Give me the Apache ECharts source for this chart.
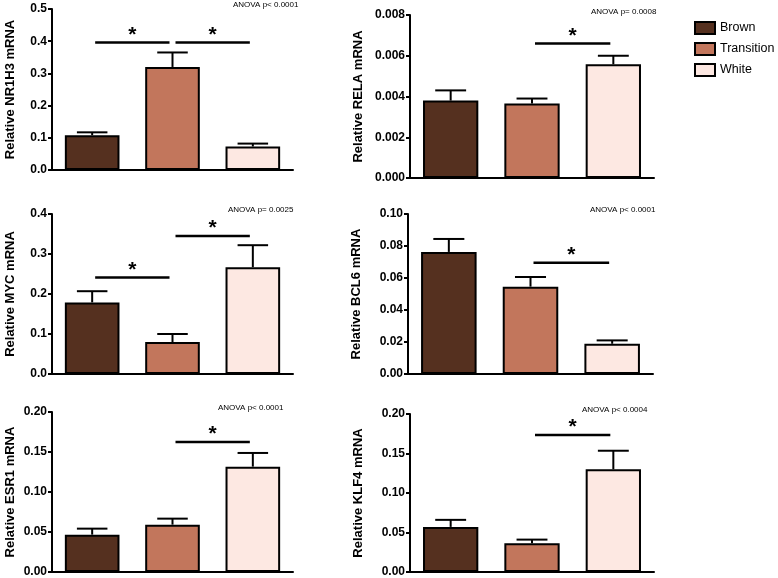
<!DOCTYPE html>
<html><head><meta charset="utf-8">
<script src="https://cdn.jsdelivr.net/npm/echarts@6/dist/echarts.min.js"></script>
<style>html,body{margin:0;padding:0;background:#fff}#c{width:778px;height:578px}</style>
</head><body><div id="c"></div>
<script>
const groups = ['Brown', 'Transition', 'White'];
const genes = ['NR1H3', 'RELA', 'MYC', 'BCL6', 'ESR1', 'KLF4'];
const anovaText = ['ANOVA p< 0.0001', 'ANOVA p= 0.0008', 'ANOVA p= 0.0025', 'ANOVA p< 0.0001', 'ANOVA p< 0.0001', 'ANOVA p< 0.0004'];
// mean values (Brown, Transition, White)
const meanNR1H3 = [0.108, 0.320, 0.073];
const meanRELA  = [0.0038, 0.00366, 0.00558];
const meanMYC   = [0.179, 0.080, 0.267];
const meanBCL6  = [0.0763, 0.0546, 0.0189];
const meanESR1  = [0.0467, 0.0592, 0.1317];
const meanKLF4  = [0.0571, 0.0364, 0.130];
// upper error (mean + SEM)
const upNR1H3 = [0.117, 0.365, 0.082];
const upRELA  = [0.0043, 0.0039, 0.0060];
const upMYC   = [0.207, 0.100, 0.322];
const upBCL6  = [0.0844, 0.0607, 0.0210];
const upESR1  = [0.0542, 0.0667, 0.1488];
const upKLF4  = [0.066, 0.041, 0.1535];
// significance brackets: [fromGroup, toGroup, yValue]
const sigNR1H3 = [[0, 1, 0.396], [1, 2, 0.396]];
const sigRELA  = [[1, 2, 0.0066]];
const sigMYC   = [[0, 1, 0.241], [1, 2, 0.345]];
const sigBCL6  = [[1, 2, 0.0696]];
const sigESR1  = [[1, 2, 0.1625]];
const sigKLF4  = [[1, 2, 0.1734]];
// y-axis scales
const yMax = [0.5, 0.008, 0.4, 0.10, 0.20, 0.20];
const yInterval = [0.1, 0.002, 0.1, 0.02, 0.05, 0.05];
const yDecimals = [1, 3, 1, 2, 2, 2];

const means = [meanNR1H3, meanRELA, meanMYC, meanBCL6, meanESR1, meanKLF4];
const ups = [upNR1H3, upRELA, upMYC, upBCL6, upESR1, upKLF4];
const sigs = [sigNR1H3, sigRELA, sigMYC, sigBCL6, sigESR1, sigKLF4];

const colors = ['#55301f', '#c2765c', '#fde8e2'];
const FONT = 'Liberation Sans, Arial, sans-serif';
const grids = [
  {left: 52, top: 9, width: 241, height: 161},
  {left: 410, top: 15, width: 244, height: 163},
  {left: 52, top: 214, width: 241, height: 160},
  {left: 408, top: 214, width: 245, height: 160},
  {left: 52, top: 412, width: 241, height: 160},
  {left: 410, top: 414, width: 244, height: 158}
];
const anovaPos = [[233, 1], [591, 8], [228, 206], [590, 206], [218, 404], [582, 406]];

const option = {
  animation: false,
  backgroundColor: '#fff',
  textStyle: {fontFamily: FONT},
  title: anovaText.map((t, i) => ({text: t, left: anovaPos[i][0], top: anovaPos[i][1], padding: 0,
    textStyle: {fontSize: 8, fontWeight: 'normal', color: '#000', fontFamily: FONT}})),
  legend: {data: groups, orient: 'vertical', left: 689, top: 16, itemWidth: 20, itemHeight: 12, itemGap: 7,
    icon: 'rect', textStyle: {fontSize: 12.5, color: '#000', fontFamily: FONT}},
  grid: grids,
  xAxis: grids.map((g, i) => ({type: 'category', gridIndex: i, data: groups, axisLabel: {show: false},
    axisTick: {show: false}, axisLine: {lineStyle: {color: '#000', width: 2}}})),
  yAxis: grids.map((g, i) => ({type: 'value', gridIndex: i, min: 0, max: yMax[i], interval: yInterval[i],
    name: 'Relative ' + genes[i] + ' mRNA', nameLocation: 'middle', nameGap: i % 2 === 0 ? 35 : 45,
    nameTextStyle: {fontSize: 13, fontWeight: 'bold', color: '#000', fontFamily: FONT},
    splitLine: {show: false},
    axisLine: {show: true, lineStyle: {color: '#000', width: 2}},
    axisTick: {show: true, length: 4, lineStyle: {color: '#000', width: 2}},
    axisLabel: {fontSize: 12, fontWeight: 'bold', color: '#000', margin: 5, fontFamily: FONT,
      formatter: v => v.toFixed(yDecimals[i])}})),
  series: []
};

for (let i = 0; i < 6; i++) {
  groups.forEach((gname, k) => {
    option.series.push({
      type: 'bar', name: gname, xAxisIndex: i, yAxisIndex: i,
      data: groups.map((_, j) => j === k ? means[i][j] : '-'),
      barGap: '-100%', barCategoryGap: '32%', z: 3,
      itemStyle: {color: colors[k], borderColor: '#000', borderWidth: 2}
    });
  });
  option.series.push({
    type: 'custom', xAxisIndex: i, yAxisIndex: i, z: 2,
    data: groups.map((_, j) => [j, means[i][j], ups[i][j]]),
    encode: {x: 0, y: [1, 2]},
    renderItem: function (params, api) {
      const p0 = api.coord([api.value(0), api.value(1)]);
      const p1 = api.coord([api.value(0), api.value(2)]);
      const half = api.size([1, 0])[0] * 0.19;
      return {type: 'group', children: [
        {type: 'line', shape: {x1: p0[0], y1: p0[1], x2: p1[0], y2: p1[1]}, style: {stroke: '#000', lineWidth: 2}},
        {type: 'line', shape: {x1: p1[0] - half, y1: p1[1], x2: p1[0] + half, y2: p1[1]}, style: {stroke: '#000', lineWidth: 2}}
      ]};
    }
  });
  option.series.push({
    type: 'custom', xAxisIndex: i, yAxisIndex: i, z: 4,
    data: sigs[i],
    encode: {x: [0, 1], y: 2},
    renderItem: function (params, api) {
      const a = api.coord([api.value(0), api.value(2)]);
      const b = api.coord([api.value(1), api.value(2)]);
      return {type: 'group', children: [
        {type: 'line', shape: {x1: a[0] + 3, y1: a[1], x2: b[0] - 3, y2: a[1]}, style: {stroke: '#000', lineWidth: 2.5}},
        {type: 'text', x: (a[0] + b[0]) / 2, y: a[1] + 3, style: {text: '*', fontSize: 21, fontWeight: 'bold',
          fontFamily: FONT, fill: '#000', align: 'center', verticalAlign: 'bottom'}}
      ]};
    }
  });
}

const chart = echarts.init(document.getElementById('c'), null, {renderer: 'canvas'});
chart.setOption(option);
</script></body></html>
